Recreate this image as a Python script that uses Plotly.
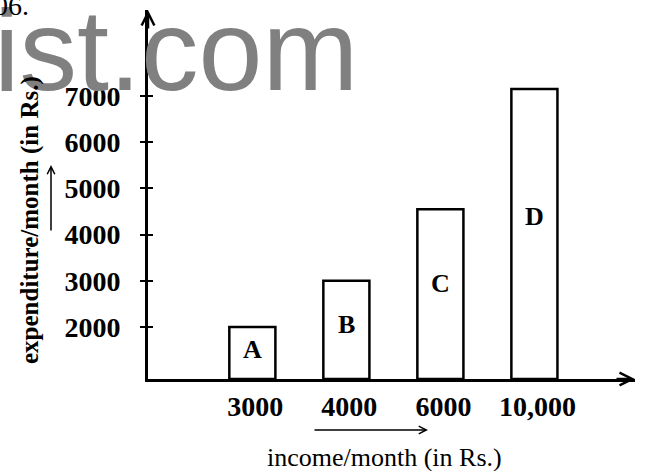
import plotly.graph_objects as go

# ---- data ----
income_labels = ["3000", "4000", "6000", "10,000"]
expenditure = [2000, 3000, 4550, 7150]
bar_labels = ["A", "B", "C", "D"]
y_tick_vals = [2000, 3000, 4000, 5000, 6000, 7000]
y_tick_text = ["2000", "3000", "4000", "5000", "6000", "7000"]

Y_BASE = 875
Y_TOP = 8860
LABEL_FRAC = 0.56  # letter sits a bit above the middle of each bar

SERIF = "Liberation Serif"
SANS = "Liberation Sans"

fig = go.Figure()

fig.add_trace(go.Bar(
    x=income_labels,
    y=[v - Y_BASE for v in expenditure],
    base=Y_BASE,
    width=0.49,
    marker=dict(color="white", line=dict(color="black", width=2.5)),
    showlegend=False,
    hoverinfo="skip",
))

# invisible helper trace so the overlaid axis (inside ticks) renders
fig.add_trace(go.Scatter(
    x=income_labels, y=expenditure, yaxis="y2", mode="markers",
    marker=dict(opacity=0), showlegend=False, hoverinfo="skip",
))

fig.update_layout(
    width=645, height=471,
    margin=dict(l=148, r=10, t=10, b=92),
    paper_bgcolor="white", plot_bgcolor="white",
    xaxis=dict(
        type="category",
        range=[-1.11, 4.07],
        showline=True, linecolor="black", linewidth=3,
        showgrid=False, zeroline=False, ticks="",
        tickfont=dict(family=SERIF, size=28, color="black", weight="bold"),
        ticklabelstandoff=0, ticklabelshift=3,
    ),
    yaxis=dict(
        range=[Y_BASE, Y_TOP],
        tickvals=y_tick_vals, ticktext=y_tick_text,
        showline=True, linecolor="black", linewidth=3,
        showgrid=False, zeroline=False,
        ticks="outside", ticklen=5, tickwidth=2, tickcolor="black",
        tickfont=dict(family=SERIF, size=28, color="black", weight="bold"),
        ticklabelstandoff=14,
    ),
    yaxis2=dict(
        overlaying="y", side="left", range=[Y_BASE, Y_TOP],
        tickvals=y_tick_vals, showticklabels=False,
        ticks="inside", ticklen=5, tickwidth=2, tickcolor="black",
        showgrid=False, zeroline=False, showline=False,
    ),
)

annotations = [
    # watermark
    dict(text="ist.com", xref="paper", yref="paper", x=(-8 - 148) / 487, y=(379 - 50) / 369,
         xanchor="left", yanchor="middle", showarrow=False,
         font=dict(family=SANS, size=115, color="#808080")),
    # cut-off question number
    dict(text="06.", xref="paper", yref="paper", x=(31 - 148) / 487, y=(379 - 5) / 369,
         xanchor="right", yanchor="middle", showarrow=False,
         font=dict(family=SERIF, size=28, color="black")),
    # axis titles
    dict(text="expenditure/month (in Rs.)", xref="paper", yref="paper",
         x=(30 - 148) / 487, y=(379 - 220) / 369, textangle=-90,
         xanchor="center", yanchor="middle", showarrow=False,
         font=dict(family=SERIF, size=25, color="black", weight="bold")),
    dict(text="income/month (in Rs.)", xref="paper", yref="paper",
         x=(384 - 148) / 487, y=(379 - 457) / 369,
         xanchor="center", yanchor="middle", showarrow=False,
         font=dict(family=SERIF, size=26, color="black")),
    # axis arrowheads
    dict(text="", xref="paper", yref="paper", x=1, y=0, ax=-20, ay=0,
         showarrow=True, arrowhead=5, arrowsize=1, arrowwidth=2.5, arrowcolor="black", standoff=0),
    dict(text="", xref="paper", yref="paper", x=0, y=1, ax=0, ay=20,
         showarrow=True, arrowhead=5, arrowsize=1, arrowwidth=2.5, arrowcolor="black", standoff=0),
    # direction arrows near titles
    dict(text="", xref="paper", yref="paper", x=(51 - 148) / 487, y=(379 - 165) / 369, ax=0, ay=67,
         showarrow=True, arrowhead=5, arrowsize=1, arrowwidth=1.5, arrowcolor="black", standoff=0),
    dict(text="", xref="paper", yref="paper", x=(428 - 148) / 487, y=(379 - 430) / 369, ax=-115, ay=0,
         showarrow=True, arrowhead=5, arrowsize=1, arrowwidth=1.5, arrowcolor="black", standoff=0),
]

# bar letters, placed from the bar values (category index on the x axis)
for i, (val, lab) in enumerate(zip(expenditure, bar_labels)):
    annotations.append(dict(
        text=lab, x=i, y=Y_BASE + LABEL_FRAC * (val - Y_BASE), xref="x", yref="y",
        showarrow=False, xanchor="center", yanchor="middle",
        font=dict(family=SERIF, size=26, color="black", weight="bold"),
    ))

fig.update_layout(annotations=annotations)

fig.write_html("out.html", config={"displayModeBar": False},
               post_script="document.body.style.margin='0';")
